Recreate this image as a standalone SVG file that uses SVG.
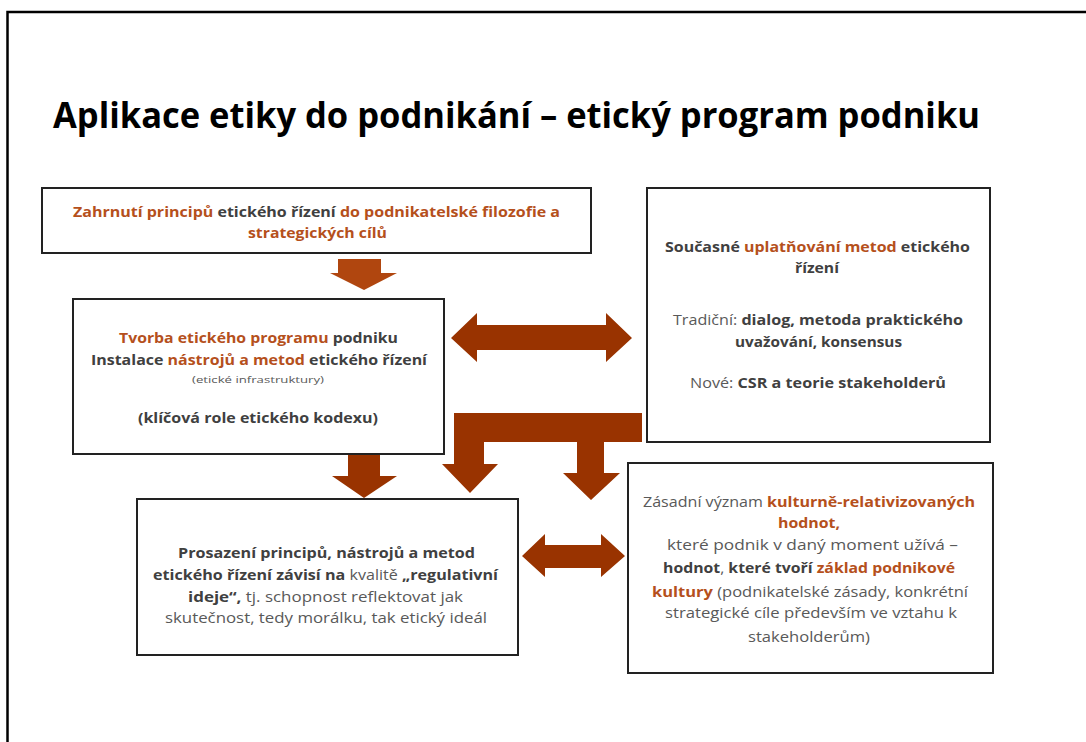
<svg xmlns="http://www.w3.org/2000/svg" width="1086" height="742" viewBox="0 0 1086 742">
<style>
text{font-family:"Open Sans","Noto Sans","Liberation Sans",sans-serif;font-size:15px;}
.b{font-weight:700;fill:#404040;}
.n{font-weight:400;fill:#595959;}
.o{font-weight:700;fill:#B5501C;}
.box{fill:#fff;stroke:#222;stroke-width:2;}
.arr{fill:#993300;}
</style>
<rect width="1086" height="742" fill="#fff"/>
<path d="M7.5 742 V12 H1086" fill="none" stroke="#000" stroke-width="2.5"/>
<text x="53" y="128" textLength="927" lengthAdjust="spacingAndGlyphs" style="font-size:35px;font-weight:700;fill:#000">Aplikace etiky do podnikání – etický program podniku</text>
<g id="connectors">
<polygon fill="#B0460F" points="338,259 381,259 381,273 397,273 364,290 330,273 338,273"/>
<polygon class="arr" points="348,455 380,455 380,476 397,476 364,498 332,476 348,476"/>
<polygon class="arr" points="454,413 642,413 642,442 604,442 604,473 620,473 591,500 563,473 577,473 577,442 484,442 484,464 498,464 470,493 442,464 454,464"/>
<polygon class="arr" points="451,338 477,313 477,325 606,325 606,313 632,338 606,362 606,350 477,350 477,362"/>
<polygon class="arr" points="522,556 545,534 545,545 601,545 601,534 625,556 601,577 601,568 545,568 545,577"/>
</g>
<g id="n1">
<rect class="box" x="42" y="188" width="549" height="65"/>
<text x="73" y="217" textLength="487" lengthAdjust="spacingAndGlyphs"><tspan class="o">Zahrnutí principů </tspan><tspan class="b">etického řízení </tspan><tspan class="o">do podnikatelské filozofie a</tspan></text>
<text x="248" y="238" textLength="139" lengthAdjust="spacingAndGlyphs" class="o">strategických cílů</text>
</g>
<g id="n2">
<rect class="box" x="73" y="299" width="371" height="155"/>
<text x="119" y="343" textLength="279" lengthAdjust="spacingAndGlyphs"><tspan class="o">Tvorba etického programu </tspan><tspan class="b">podniku</tspan></text>
<text x="91" y="365" textLength="336" lengthAdjust="spacingAndGlyphs"><tspan class="b">Instalace </tspan><tspan class="o">nástrojů a metod </tspan><tspan class="b">etického řízení</tspan></text>
<text x="192" y="383" textLength="132" lengthAdjust="spacingAndGlyphs" class="n" style="font-size:9.5px">(etické infrastruktury)</text>
<text x="138" y="423" textLength="240" lengthAdjust="spacingAndGlyphs" class="b">(klíčová role etického kodexu)</text>
</g>
<g id="n3">
<rect class="box" x="647" y="188" width="343" height="254"/>
<text x="665" y="252" textLength="305" lengthAdjust="spacingAndGlyphs"><tspan class="b">Současné </tspan><tspan class="o">uplatňování metod </tspan><tspan class="b">etického</tspan></text>
<text x="795" y="273" textLength="44" lengthAdjust="spacingAndGlyphs" class="b">řízení</text>
<text x="673" y="325" textLength="290" lengthAdjust="spacingAndGlyphs"><tspan class="n">Tradiční: </tspan><tspan class="b">dialog, metoda praktického</tspan></text>
<text x="735" y="347" textLength="167" lengthAdjust="spacingAndGlyphs" class="b">uvažování, konsensus</text>
<text x="690" y="388" textLength="256" lengthAdjust="spacingAndGlyphs"><tspan class="n">Nové: </tspan><tspan class="b">CSR a teorie stakeholderů</tspan></text>
</g>
<g id="n4">
<rect class="box" x="137" y="499" width="381" height="156"/>
<text x="178" y="558" textLength="297" lengthAdjust="spacingAndGlyphs" class="b">Prosazení principů, nástrojů a metod</text>
<text x="153" y="580" textLength="345" lengthAdjust="spacingAndGlyphs"><tspan class="b">etického řízení závisí na </tspan><tspan class="n">kvalitě </tspan><tspan class="b">„regulativní</tspan></text>
<text x="188" y="602" textLength="275" lengthAdjust="spacingAndGlyphs"><tspan class="b">ideje“, </tspan><tspan class="n">tj. schopnost reflektovat jak</tspan></text>
<text x="165" y="623" textLength="322" lengthAdjust="spacingAndGlyphs" class="n">skutečnost, tedy morálku, tak etický ideál</text>
</g>
<g id="n5">
<rect class="box" x="628" y="463" width="365" height="210"/>
<text x="643" y="507" textLength="332" lengthAdjust="spacingAndGlyphs"><tspan class="n">Zásadní význam </tspan><tspan class="o">kulturně-relativizovaných</tspan></text>
<text x="778" y="528" textLength="62" lengthAdjust="spacingAndGlyphs" class="o">hodnot,</text>
<text x="667" y="550" textLength="291" lengthAdjust="spacingAndGlyphs" class="n">které podnik v daný moment užívá –</text>
<text x="663" y="573" textLength="292" lengthAdjust="spacingAndGlyphs"><tspan class="b">hodnot</tspan><tspan class="n">, </tspan><tspan class="b">které tvoří </tspan><tspan class="o">základ podnikové</tspan></text>
<text x="652" y="597" textLength="316" lengthAdjust="spacingAndGlyphs"><tspan class="o">kultury </tspan><tspan class="n">(podnikatelské zásady, konkrétní</tspan></text>
<text x="665" y="618" textLength="292" lengthAdjust="spacingAndGlyphs" class="n">strategické cíle především ve vztahu k</text>
<text x="748" y="642" textLength="122" lengthAdjust="spacingAndGlyphs" class="n">stakeholderům)</text>
</g>
</svg>
